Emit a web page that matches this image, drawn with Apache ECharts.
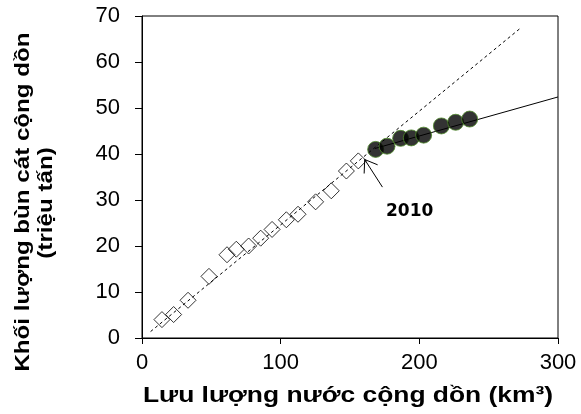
<!DOCTYPE html>
<html><head><meta charset="utf-8">
<script src="https://cdn.jsdelivr.net/npm/echarts@6/dist/echarts.min.js"></script>
<style>html,body{margin:0;padding:0;background:#fff}#c{width:581px;height:414px}</style>
</head><body><div id="c"></div>
<script>
// Data
var diamondX = [14.4, 22.8, 33.2, 48.3, 61.3, 68.0, 76.9, 85.6, 93.8, 104.1, 112.5, 125.2, 136.5, 147.4, 156.0];
var diamondY = [4.0, 5.1, 8.2, 13.4, 18.1, 19.3, 20.0, 21.7, 23.6, 25.7, 26.9, 29.6, 32.0, 36.3, 38.5];
var circleX = [168.5, 176.7, 186.5, 194.2, 203.1, 215.9, 226.2, 236.3];
var circleY = [41.0, 41.7, 43.4, 43.5, 44.1, 46.1, 46.9, 47.6];
var dashTrendX = [6.2, 273.1];
var dashTrendY = [1.4, 67.4];
var solidTrendX = [168.0, 300.0];
var solidTrendY = [41.2, 52.4];
var arrowTip = [160.6, 38.8];
var arrowTail = [173.4, 32.8];
var noteLabel = '2010';
var notePos = [193, 27.4];
var xTicks = [0, 100, 200, 300];
var yTicks = [0, 10, 20, 30, 40, 50, 60, 70];
var xTitle = 'Lưu lượng nước cộng dồn (km³)';
var yTitle1 = 'Khối lượng bùn cát cộng dồn';
var yTitle2 = '(triệu tấn)';

function zip(a, b) { return a.map(function (v, i) { return [v, b[i]]; }); }

var chart = echarts.init(document.getElementById('c'), null, {renderer: 'canvas'});
var tickFont = {fontFamily: 'Liberation Sans, Arial, sans-serif', fontSize: 22, color: '#000'};
chart.setOption({
  animation: false,
  grid: {left: 142, right: 23, top: 16, bottom: 76, show: true, borderColor: '#000', borderWidth: 1},
  xAxis: {
    type: 'value', min: xTicks[0], max: xTicks[xTicks.length - 1], interval: 100,
    axisLine: {show: true, lineStyle: {color: '#000', width: 1}},
    axisTick: {show: true, length: 6, lineStyle: {color: '#000'}},
    axisLabel: Object.assign({margin: 14}, tickFont),
    splitLine: {show: false}
  },
  yAxis: {
    type: 'value', min: yTicks[0], max: yTicks[yTicks.length - 1], interval: 10,
    axisLine: {show: true, lineStyle: {color: '#000', width: 1}},
    axisTick: {show: true, length: 7, lineStyle: {color: '#000'}},
    axisLabel: Object.assign({margin: 22}, tickFont),
    splitLine: {show: false}
  },
  series: [
    {type: 'line', data: zip(solidTrendX, solidTrendY), symbol: 'none', silent: true, z: 1,
     lineStyle: {color: '#000', width: 1}},
    {type: 'scatter', data: zip(diamondX, diamondY), symbol: 'diamond', symbolSize: [16, 16], z: 2,
     itemStyle: {color: 'rgba(255,255,255,0)', borderColor: '#000', borderWidth: 1}},
    {type: 'line', data: zip(dashTrendX, dashTrendY), symbol: 'none', silent: true, z: 3,
     lineStyle: {color: '#000', width: 1, type: [3, 3]}},
    {type: 'scatter', data: zip(circleX, circleY), symbol: 'circle', symbolSize: 16, z: 4,
     itemStyle: {color: '#000', borderColor: '#4f8a2a', borderWidth: 1}}
  ]
});

// Axis titles and annotation positioned from data
var tip = chart.convertToPixel({gridIndex: 0}, arrowTip);
var tail = chart.convertToPixel({gridIndex: 0}, arrowTail);
var np = chart.convertToPixel({gridIndex: 0}, notePos);
var ang = Math.atan2(tail[1] - tip[1], tail[0] - tip[0]);
var hl = 14, ha = 35 * Math.PI / 180;
function headPt(s) { return [tip[0] + hl * Math.cos(ang + s * ha), tip[1] + hl * Math.sin(ang + s * ha)]; }
var h1 = headPt(1), h2 = headPt(-1);
var titleFont = 'bold 21px "Liberation Sans", Arial, sans-serif';
chart.setOption({
  graphic: [
    {type: 'text', x: 23, y: 202, rotation: Math.PI / 2, scaleX: 1.15, style: {text: yTitle1, font: titleFont, fill: '#000', align: 'center', verticalAlign: 'middle'}},
    {type: 'text', x: 46, y: 203, rotation: Math.PI / 2, scaleX: 1.15, style: {text: yTitle2, font: titleFont, fill: '#000', align: 'center', verticalAlign: 'middle'}},
    {type: 'text', x: 348, y: 396, scaleX: 1.2, style: {text: xTitle, font: 'bold 22px "Liberation Sans", Arial, sans-serif', fill: '#000', align: 'center', verticalAlign: 'middle'}},
    {type: 'line', shape: {x1: tail[0], y1: tail[1], x2: tip[0], y2: tip[1]}, style: {stroke: '#000', lineWidth: 1}, z: 10},
    {type: 'polyline', shape: {points: [h1, tip, h2]}, style: {stroke: '#000', lineWidth: 1, fill: null}, z: 10},
    {type: 'text', x: np[0], y: np[1], style: {text: noteLabel, font: 'bold 17px "DejaVu Sans", Verdana, sans-serif', fill: '#000', align: 'center', verticalAlign: 'middle'}, z: 10}
  ]
});
</script></body></html>
